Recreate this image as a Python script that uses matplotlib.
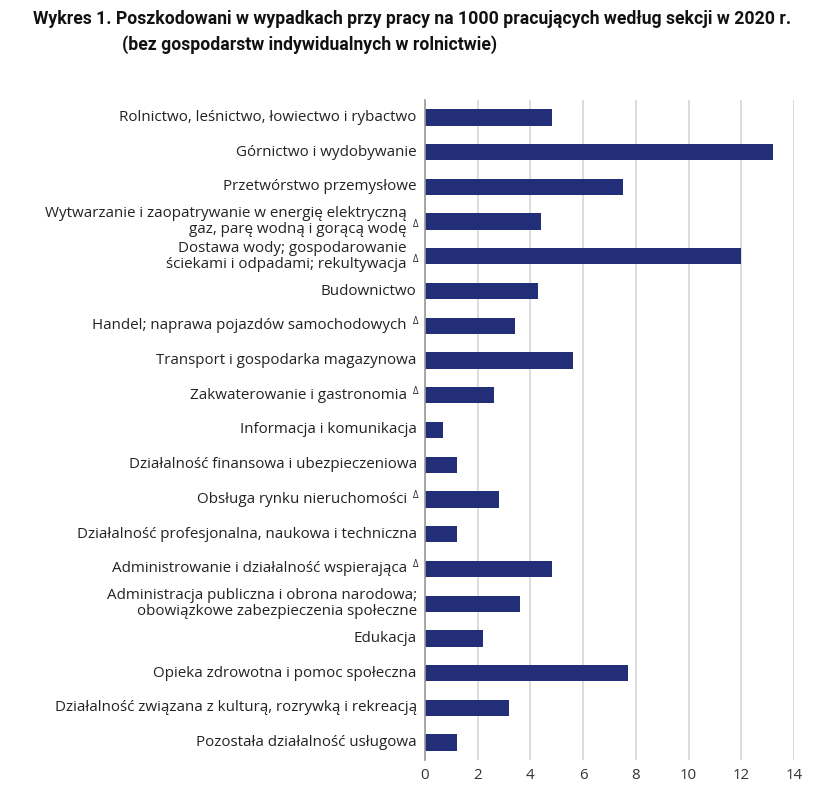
import numpy as np
import matplotlib.pyplot as plt
from matplotlib.transforms import blended_transform_factory

plt.rcParams['font.family'] = ['Open Sans', 'DejaVu Sans']

sections = [
    "Rolnictwo, leśnictwo, łowiectwo i rybactwo",
    "Górnictwo i wydobywanie",
    "Przetwórstwo przemysłowe",
    "Wytwarzanie i zaopatrywanie w energię elektryczną\ngaz, parę wodną i gorącą wodę",
    "Dostawa wody; gospodarowanie\nściekami i odpadami; rekultywacja",
    "Budownictwo",
    "Handel; naprawa pojazdów samochodowych",
    "Transport i gospodarka magazynowa",
    "Zakwaterowanie i gastronomia",
    "Informacja i komunikacja",
    "Działalność finansowa i ubezpieczeniowa",
    "Obsługa rynku nieruchomości",
    "Działalność profesjonalna, naukowa i techniczna",
    "Administrowanie i działalność wspierająca",
    "Administracja publiczna i obrona narodowa;\nobowiązkowe zabezpieczenia społeczne",
    "Edukacja",
    "Opieka zdrowotna i pomoc społeczna",
    "Działalność związana z kulturą, rozrywką i rekreacją",
    "Pozostała działalność usługowa",
]
delta = [False, False, False, True, True, False, True, False, True, False,
         False, True, False, True, False, False, False, False, False]
values = [4.8, 13.2, 7.5, 4.4, 12.0, 4.3, 3.4, 5.6, 2.6, 0.7,
          1.2, 2.8, 1.2, 4.8, 3.6, 2.2, 7.7, 3.2, 1.2]
xticks = [0, 2, 4, 6, 8, 10, 12, 14]

fig = plt.figure(figsize=(8.29, 7.91), dpi=100)
ax = fig.add_axes([0.5127, 0.0392, 0.445, 0.8344])

y = np.arange(len(sections))
ax.barh(y, values, height=0.47, color='#222f78', zorder=3)

ax.set_xlim(0, 14)
ax.set_ylim(len(sections) - 0.5, -0.5)
ax.set_xticks(xticks)
ax.set_xticklabels([str(t) for t in xticks], fontsize=10.8, color='#333333')
ax.tick_params(axis='x', length=0, pad=6)
ax.set_yticks([])
ax.grid(axis='x', color='#d6d6d6', linewidth=1.2, zorder=0)
for s in ['top', 'right', 'bottom']:
    ax.spines[s].set_visible(False)
ax.spines['left'].set_color('#999999')
ax.spines['left'].set_linewidth(1.2)
ax.spines['left'].set_zorder(4)

trans = blended_transform_factory(ax.transAxes, ax.transData)
for i, (lab, d) in enumerate(zip(sections, delta)):
    off = -13 if d else -6
    ax.annotate(lab, xy=(0, i), xycoords=trans, xytext=(off, 0),
                textcoords='offset points', ha='right', va='center',
                fontsize=10.9, color='#222222', linespacing=1.1)
    if d:
        dy = -2 if '\n' in lab else 3
        ax.annotate('Δ', xy=(0, i), xycoords=trans, xytext=(-5, dy),
                    textcoords='offset points', ha='right', va='center',
                    fontsize=7, color='#222222')

fig.text(0.497, 0.976, "Wykres 1. Poszkodowani w wypadkach przy pracy na 1000 pracujących według sekcji w 2020 r.",
         ha='center', va='center', fontsize=12.7, fontweight='bold', color='#111111',
         family=['Roboto', 'DejaVu Sans'])
fig.text(0.374, 0.944, "(bez gospodarstw indywidualnych w rolnictwie)",
         ha='center', va='center', fontsize=12.7, fontweight='bold', color='#111111',
         family=['Roboto', 'DejaVu Sans'])

fig.savefig('out.png', dpi=100)
